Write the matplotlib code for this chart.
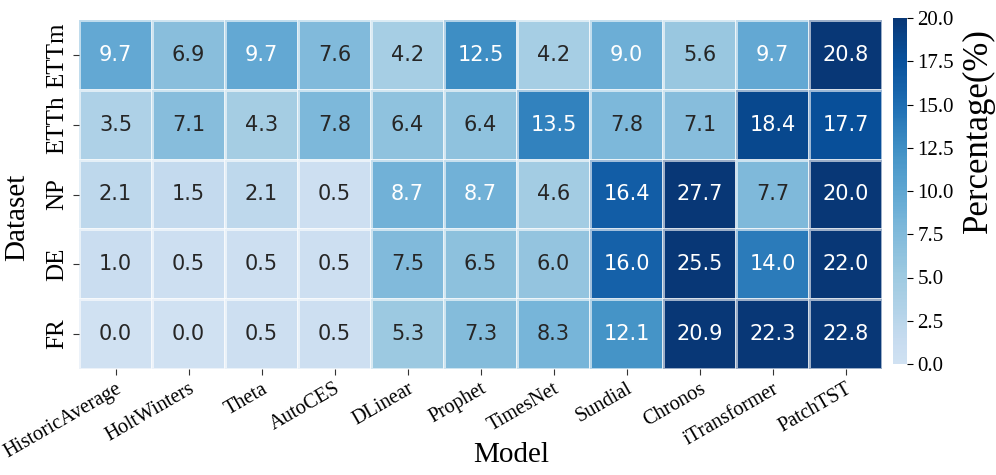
import numpy as np
import pandas as pd
import matplotlib
matplotlib.use("Agg")
import matplotlib.pyplot as plt
import seaborn as sns
from matplotlib.colors import LinearSegmentedColormap

datasets = ["ETTm", "ETTh", "NP", "DE", "FR"]
models = ["HistoricAverage", "HoltWinters", "Theta", "AutoCES", "DLinear", "Prophet",
          "TimesNet", "Sundial", "Chronos", "iTransformer", "PatchTST"]
ettm = [9.7, 6.9, 9.7, 7.6, 4.2, 12.5, 4.2, 9.0, 5.6, 9.7, 20.8]
etth = [3.5, 7.1, 4.3, 7.8, 6.4, 6.4, 13.5, 7.8, 7.1, 18.4, 17.7]
np_vals = [2.1, 1.5, 2.1, 0.5, 8.7, 8.7, 4.6, 16.4, 27.7, 7.7, 20.0]
de_vals = [1.0, 0.5, 0.5, 0.5, 7.5, 6.5, 6.0, 16.0, 25.5, 14.0, 22.0]
fr_vals = [0.0, 0.0, 0.5, 0.5, 5.3, 7.3, 8.3, 12.1, 20.9, 22.3, 22.8]

df = pd.DataFrame([ettm, etth, np_vals, de_vals, fr_vals], index=datasets, columns=models)

# colormap: Blues, resampled (light end starts at pale blue)
base = plt.get_cmap("Blues")
grid = np.linspace(0, 1, 256)
pos = np.interp(grid, [0.0, 0.2, 0.4, 0.6, 0.8, 1.0], [0.2, 0.345, 0.46, 0.61, 0.81, 0.97])
cmap = LinearSegmentedColormap.from_list("blues_custom", base(pos))

serif = ["Liberation Serif", "DejaVu Serif"]

fig = plt.figure(figsize=(9.96, 4.75), dpi=100)
ax = fig.add_axes([79 / 996, 1 - 369 / 475, 803 / 996, 349 / 475])
cax = fig.add_axes([893 / 996, 1 - 364 / 475, 14 / 996, 346 / 475])

sns.heatmap(df, ax=ax, cbar_ax=cax, cmap=cmap, vmin=0, vmax=20, annot=False,
            linewidths=0.8, linecolor=(1, 1, 1, 0.6))

# annotations (white on darker cells)
for i, row in enumerate(df.values):
    for j, v in enumerate(row):
        ax.text(j + 0.5, i + 0.5, f"{v:.1f}", ha="center", va="center",
                fontsize=15, family="DejaVu Sans",
                color="white" if v >= 8.5 else "#262626")

ax.set_xlabel("Model", fontsize=21, family=serif, va="top")
ax.xaxis.set_label_coords(0.538, -0.21)
ax.set_ylabel("Dataset", fontsize=21, family=serif)
ax.yaxis.set_label_coords(-0.061, 0.435)
ax.set_xticklabels(models, rotation=30, ha="right", rotation_mode="anchor",
                   fontsize=14.6, family=serif)
ax.set_yticklabels(datasets, rotation=90, va="center", fontsize=18, family=serif)
ax.tick_params(axis="both", length=4, width=0.8, color="#333333")

cb = ax.collections[0].colorbar
cb.outline.set_visible(False)
ticks = [0, 2.5, 5, 7.5, 10, 12.5, 15, 17.5, 20]
cb.set_ticks(ticks)
cb.ax.set_yticklabels([f"{t:.1f}" for t in ticks], fontsize=15, family=serif)
cb.ax.tick_params(length=4, width=0.8)
cb.set_label("Percentage(%)", fontsize=25, family=serif)
lab = cb.ax.yaxis.label
lab.set_ha("center")
lab.set_va("center")
cb.ax.yaxis.set_label_coords((978 - 893) / 14, (364 - 131) / 346)

fig.savefig("out.png", dpi=100)
